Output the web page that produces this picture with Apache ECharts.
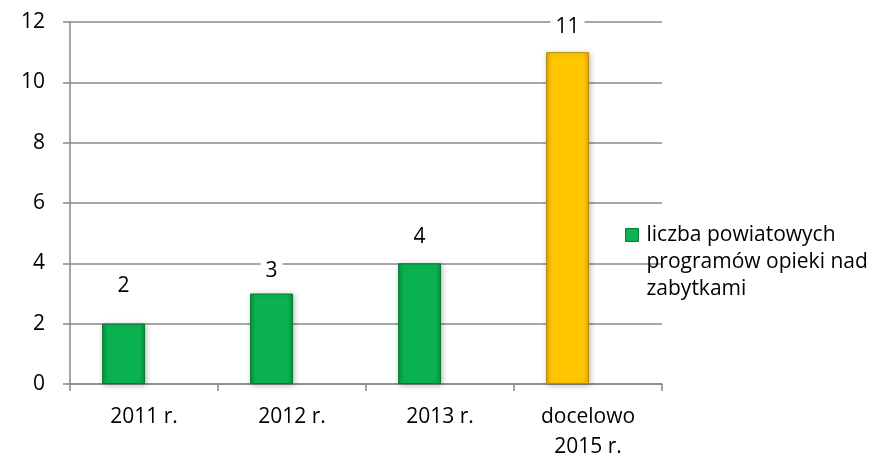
<!DOCTYPE html>
<html>
<head>
<meta charset="utf-8">
<script src="https://cdn.jsdelivr.net/npm/echarts@6/dist/echarts.min.js"></script>
<style>
  html, body { margin: 0; padding: 0; background: #fff; }
  #main { width: 896px; height: 462px; }
</style>
</head>
<body>
<div id="main"></div>
<script>
const categories = ['2011 r.', '2012 r.', '2013 r.', 'docelowo\n2015 r.']
const values = [2, 3, 4, 11]
const isTarget = [false, false, false, true]
const yTicks = [0, 2, 4, 6, 8, 10, 12]
const seriesName = 'liczba powiatowych\nprogramów opieki nad\nzabytkami'

const font = 'Open Sans'

function bevel(base, edge) {
  return new echarts.graphic.LinearGradient(0, 0, 1, 0, [
    { offset: 0, color: edge },
    { offset: 0.12, color: base },
    { offset: 0.88, color: base },
    { offset: 1, color: edge }
  ])
}

const green = bevel('#0bb350', '#07903f')
const gold = bevel('#ffc700', '#e0a400')

const chart = echarts.init(document.getElementById('main'))

// label distances, excel nudged them around the gridlines
const labelDist = [27, 12, 16, 15]

const barData = values.map((v, i) => {
  return {
    value: v,
    itemStyle: isTarget[i]
      ? { color: gold, borderColor: '#b98a00', borderWidth: 1 }
      : { color: green, borderColor: '#067a35', borderWidth: 1 },
    label: { distance: labelDist[i] }
  }
})

const option = {
  animation: false,
  grid: { left: 70, right: 234, top: 22, bottom: 78 },
  legend: {
    left: 620,
    top: 216,
    orient: 'vertical',
    itemWidth: 13,
    itemHeight: 81,
    // square sits next to the first text line
    icon: 'path://M0,0h0M0,7h13v13h-13zM0,81h0',
    textStyle: { fontFamily: font, fontSize: 21, color: '#000', lineHeight: 27, padding: [0, 0, 0, 3] },
    data: [{ name: seriesName, itemStyle: { color: green, borderColor: '#067a35', borderWidth: 1 } }]
  },
  xAxis: {
    type: 'category',
    data: categories,
    axisLine: { lineStyle: { color: '#888', width: 1.5 } },
    axisTick: { show: true, length: 7, lineStyle: { color: '#888', width: 1.5 } },
    axisLabel: { fontFamily: font, fontSize: 21, color: '#000', margin: 18, lineHeight: 30 }
  },
  yAxis: {
    type: 'value',
    min: yTicks[0],
    max: yTicks[yTicks.length - 1],
    interval: 2,
    axisLine: { show: true, lineStyle: { color: '#888', width: 1.5 } },
    axisTick: { show: true, length: 7, lineStyle: { color: '#888', width: 1.5 } },
    axisLabel: { fontFamily: font, fontSize: 21, color: '#000', margin: 25 },
    splitLine: { lineStyle: { color: '#888', width: 1.5 } }
  },
  series: [{
    name: seriesName,
    type: 'bar',
    barWidth: 43,
    barGap: '-5%',
    data: barData,
    itemStyle: {
      shadowColor: 'rgba(0,0,0,0.25)',
      shadowBlur: 6,
      shadowOffsetX: 1,
      shadowOffsetY: 1
    },
    label: {
      show: true,
      position: 'top',
      fontFamily: font,
      fontSize: 21,
      color: '#000',
      backgroundColor: '#fff',
      padding: [0, 5]
    }
  }, {
    // empty second series in the source workbook, keeps bars off-centre
    name: 'empty',
    type: 'bar',
    barWidth: 43,
    data: []
  }]
}

chart.setOption(option)
</script>
</body>
</html>
